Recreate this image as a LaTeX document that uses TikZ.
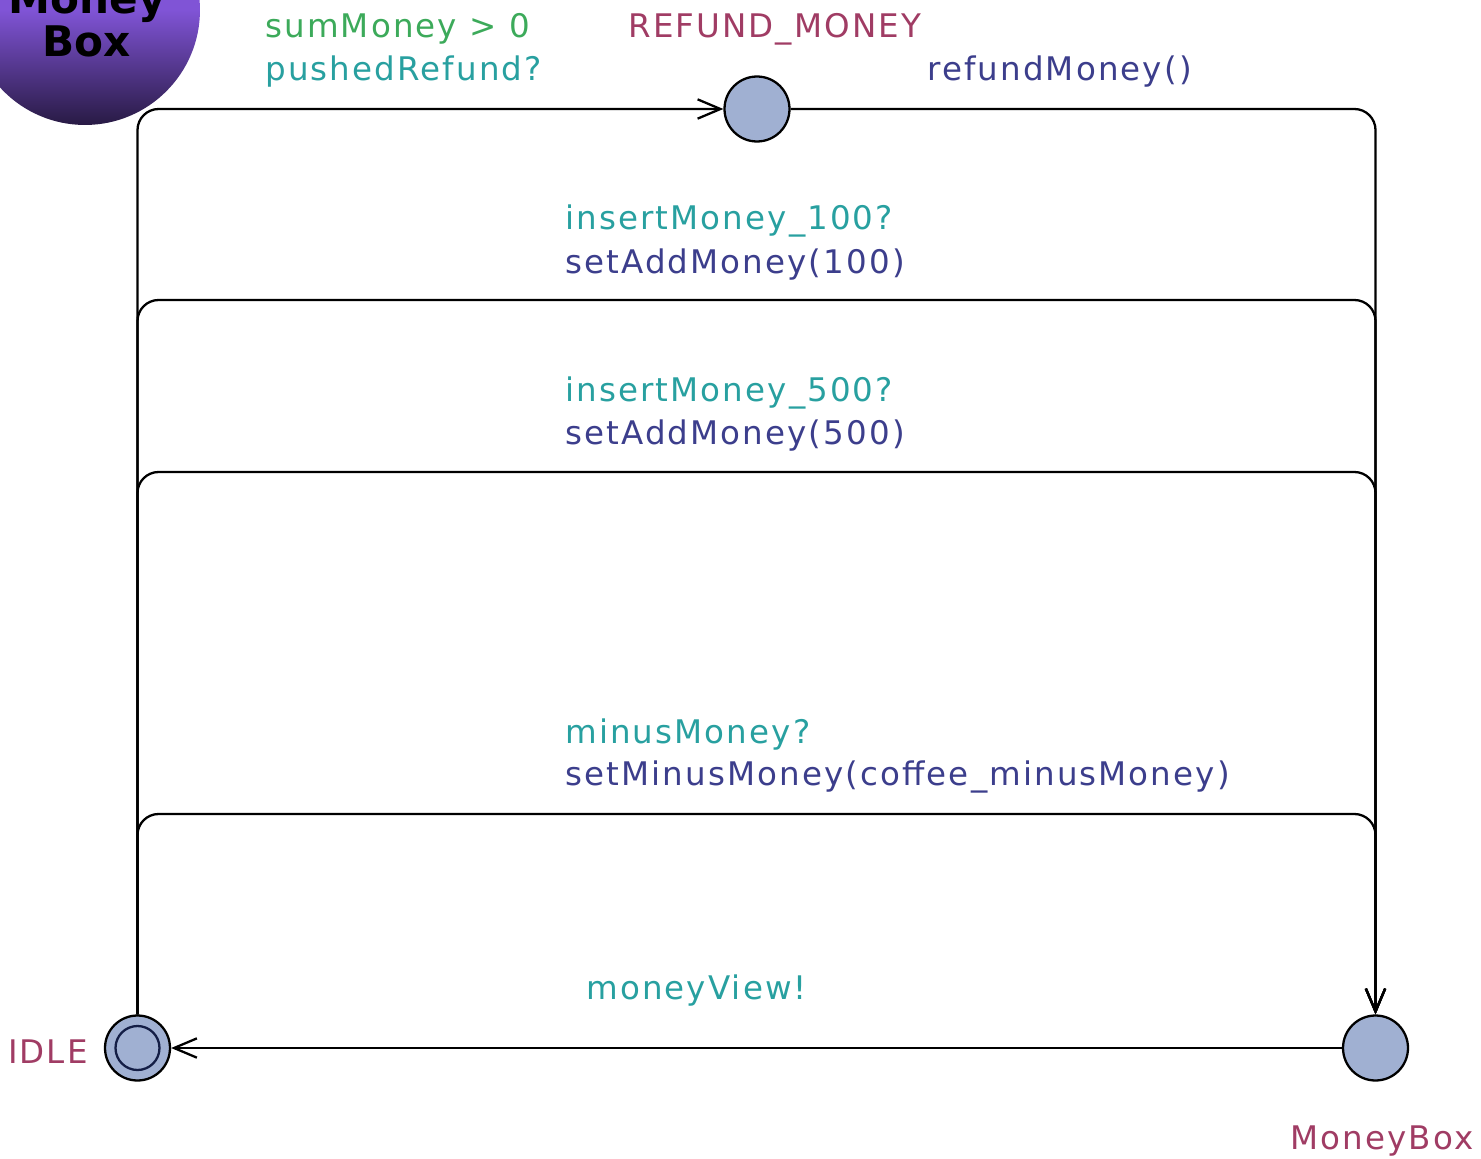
\documentclass[tikz,border=0pt]{standalone}
\usepackage{fontspec}
\setmainfont{DejaVu Sans}
\newfontfamily\lblfont[LetterSpace=6.5]{DejaVu Sans}
\usetikzlibrary{automata,positioning,arrows.meta}

\definecolor{locfill}{RGB}{160,176,210}
\definecolor{ringcol}{RGB}{20,30,70}
\definecolor{namecol}{RGB}{160,60,100}
\definecolor{guardcol}{RGB}{60,170,90}
\definecolor{synccol}{RGB}{40,160,160}
\definecolor{updcol}{RGB}{60,62,140}
\definecolor{badgehi}{RGB}{128,84,214}
\definecolor{badgelo}{RGB}{40,26,68}

\tikzset{
  every state/.style={draw=black, fill=locfill, line width=1.3pt,
    minimum size=1.3cm, inner sep=0pt},
  initloc/.style={path picture={\draw[ringcol, line width=1.3pt]
    (path picture bounding box.center) circle (0.44cm);}},
  lbl/.style={font=\lblfont\fontsize{18.5}{22}\selectfont, inner sep=0pt,
    anchor=base west},
  lname/.style={lbl, text=namecol},
  guardlbl/.style={lbl, text=guardcol},
  synclbl/.style={lbl, text=synccol},
  updlbl/.style={lbl, text=updcol},
  trans/.style={-{Straight Barb[length=13pt,width=11pt]}, line width=1.3pt,
    rounded corners=12pt},
  badge/.style={circle, minimum size=4.6cm, inner sep=0pt,
    top color=badgehi, bottom color=badgelo, middle color=badgehi},
  badgetxt/.style={font=\bfseries\fontsize{24}{25}\selectfont, align=center,
    inner sep=0pt}
}

\begin{document}
\begin{tikzpicture}[x=0.02cm,y=-0.02cm]
\useasboundingbox (0,0) rectangle (1481,1159);

% template badge
\begin{scope}
\clip (0,0) rectangle (1481,1159);
\node[badge] (badge) at (85,10) {};
\node[badgetxt, anchor=base] (badgetext) at (87,57) {Money\\Box};
\end{scope}

% locations
\node[state] (refund) at (757,109) {};
\node[state,initloc] (idle) at (137.5,1048) {};
\node[state] (mbox) at (1375.5,1048) {};

\node[lname] (nrefund) at (628,38) {REFUND\_MONEY};
\node[lname, anchor=base east] (nidle) at (88,1063) {IDLE};
\node[lname] (nmbox) at (1290,1149) {MoneyBox};

% nails
\coordinate (l100) at (137.5,300); \coordinate (r100) at (1375.5,300);
\coordinate (l500) at (137.5,472); \coordinate (r500) at (1375.5,472);
\coordinate (lmin) at (137.5,814); \coordinate (rmin) at (1375.5,814);

% transitions
\draw[trans] (idle) |- (refund);
\draw[trans] (refund) -| (mbox);
\draw[trans] (idle) -- (l100) -- (r100) -- (mbox);
\draw[trans] (idle) -- (l500) -- (r500) -- (mbox);
\draw[trans] (idle) -- (lmin) -- (rmin) -- (mbox);
\draw[trans] (mbox) -- (idle);

% labels
\node[guardlbl] (g1) at (265,38) {sumMoney > 0};
\node[synclbl] (s1) at (265,81) {pushedRefund?};
\node[updlbl] (u1) at (927,81) {refundMoney()};
\node[synclbl] (s2) at (565,229) {insertMoney\_100?};
\node[updlbl] (u2) at (565,273) {setAddMoney(100)};
\node[synclbl] (s3) at (565,401) {insertMoney\_500?};
\node[updlbl] (u3) at (565,444) {setAddMoney(500)};
\node[synclbl] (s4) at (565,743) {minusMoney?};
\node[updlbl] (u4) at (565,785) {setMinusMoney(coffee\_minusMoney)};
\node[synclbl] (s5) at (586,999) {moneyView!};
\end{tikzpicture}
\end{document}
